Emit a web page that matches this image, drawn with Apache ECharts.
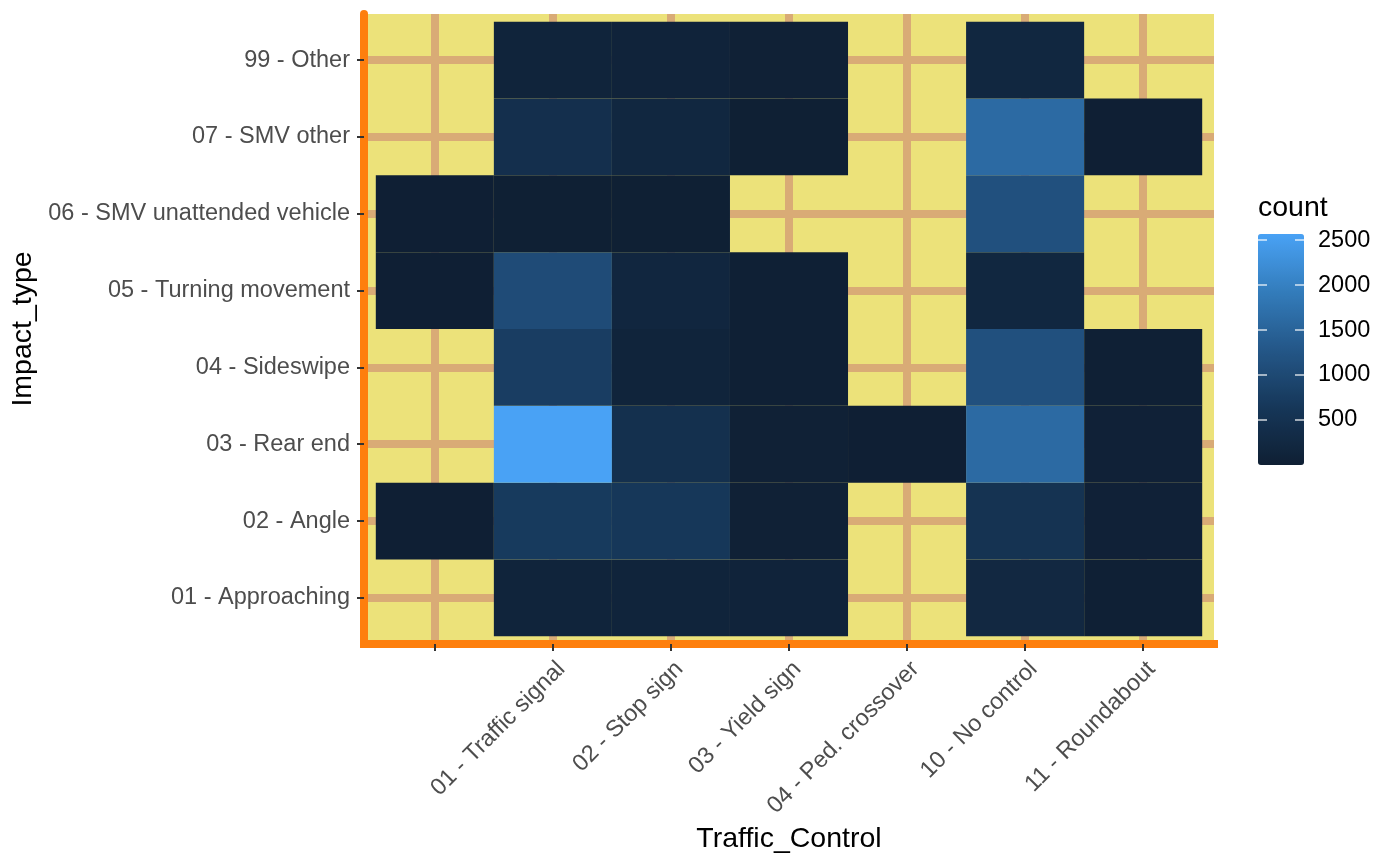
<!DOCTYPE html>
<html><head><meta charset="utf-8">
<script src="https://cdn.jsdelivr.net/npm/echarts@6/dist/echarts.min.js"></script>
<style>html,body{margin:0;padding:0;background:#fff}#chart{width:1400px;height:865px}</style>
</head><body><div id="chart"></div>
<script>
const trafficControls = ['', '01 - Traffic signal', '02 - Stop sign', '03 - Yield sign', '04 - Ped. crossover', '10 - No control', '11 - Roundabout'];
const impactTypes = ['01 - Approaching', '02 - Angle', '03 - Rear end', '04 - Sideswipe', '05 - Turning movement', '06 - SMV unattended vehicle', '07 - SMV other', '99 - Other'];
// counts per impact type, one value per traffic control (null = no tile)
const countApproaching = [null, 130, 130, 110, null, 230, 30];
const countAngle       = [10, 700, 640, 50, null, 530, 60];
const countRearEnd     = [null, 2567, 460, 50, 10, 1620, 60];
const countSideswipe   = [null, 770, 130, 40, null, 1150, 30];
const countTurning     = [10, 1050, 200, 30, null, 215, null];
const countUnattended  = [10, 20, 20, null, null, 1150, null];
const countSmvOther    = [null, 440, 215, 15, null, 1620, 10];
const countOther       = [null, 130, 110, 50, null, 215, null];
const countScaleTicks  = [500, 1000, 1500, 2000, 2500];
const countMin = 0, countMax = 2567;

const rows = [countApproaching, countAngle, countRearEnd, countSideswipe, countTurning, countUnattended, countSmvOther, countOther];
const tileData = [];
rows.forEach((row, j) => row.forEach((v, i) => { if (v !== null) tileData.push([i, j, v]); }));
const xPos = trafficControls.map((_, i) => i);
const yPos = impactTypes.map((_, i) => i);

const FONT = '"Liberation Sans", Arial, Helvetica, sans-serif';
const chart = echarts.init(document.getElementById('chart'), null, {renderer: 'canvas'});
chart.setOption({
  animation: false,
  backgroundColor: '#ffffff',
  textStyle: {fontFamily: FONT},
  title: {text: 'count', left: 1258, top: 194, padding: 0,
    textStyle: {fontSize: 28.5, fontWeight: 'normal', color: '#000', fontFamily: FONT}},
  grid: [
    {left: 364, top: 14, width: 850, height: 630, show: true, backgroundColor: '#ece27a', borderWidth: 0},
    {left: 1258, top: 234, width: 46, height: 231}
  ],
  xAxis: [
    {gridIndex: 0, type: 'value', min: -0.6, max: 6.6,
      name: 'Traffic_Control', nameLocation: 'middle', nameGap: 178,
      nameTextStyle: {fontSize: 28.5, color: '#000', fontFamily: FONT},
      axisLine: {show: true, onZero: false, lineStyle: {color: '#fe7f0d', width: 8, cap: 'square'}},
      axisTick: {show: true, customValues: xPos, length: 7, lineStyle: {color: '#333333', width: 2}},
      axisLabel: {customValues: xPos, rotate: 45, align: 'right', verticalAlign: 'top', margin: 13,
        formatter: v => trafficControls[Math.round(v)], fontSize: 23.5, color: '#4d4d4d', fontFamily: FONT},
      splitLine: {show: true, lineStyle: {color: '#d9ab76', width: 8}}
    },
    {gridIndex: 1, type: 'value', show: false, min: 0, max: 1}
  ],
  yAxis: [
    {gridIndex: 0, type: 'value', min: -0.6, max: 7.6,
      name: 'Impact_type', nameLocation: 'middle', nameGap: 311, nameRotate: 90,
      nameTextStyle: {fontSize: 28.5, color: '#000', fontFamily: FONT},
      axisLine: {show: true, onZero: false, lineStyle: {color: '#fe7f0d', width: 8}},
      axisTick: {show: true, customValues: yPos, length: 7, lineStyle: {color: '#333333', width: 2}},
      axisLabel: {customValues: yPos, margin: 14,
        formatter: v => impactTypes[Math.round(v)], fontSize: 23.5, color: '#4d4d4d', fontFamily: FONT},
      splitLine: {show: true, lineStyle: {color: '#d9ab76', width: 8}}
    },
    {gridIndex: 1, type: 'value', min: countMin, max: countMax, position: 'left', z: 5,
      axisLine: {show: false},
      axisTick: {show: true, inside: true, length: 9, customValues: countScaleTicks,
        lineStyle: {color: 'rgba(255,255,255,0.8)', width: 1.5}},
      axisLabel: {show: false}, splitLine: {show: false}
    },
    {gridIndex: 1, type: 'value', min: countMin, max: countMax, position: 'right', z: 5,
      axisLine: {show: false},
      axisTick: {show: true, inside: true, length: 9, customValues: countScaleTicks,
        lineStyle: {color: 'rgba(255,255,255,0.8)', width: 1.5}},
      axisLabel: {show: true, customValues: countScaleTicks, margin: 14, fontSize: 23.5, color: '#000',
        fontFamily: FONT, formatter: v => String(Math.round(v))},
      splitLine: {show: false}
    }
  ],
  visualMap: {
    type: 'continuous', min: countMin, max: countMax, dimension: 2, seriesIndex: 0,
    calculable: false, hoverLink: false, left: 1258, top: 234, padding: 0,
    itemWidth: 46, itemHeight: 231, z: 2,
    inRange: {color: ['#0f1f33', '#163759', '#245788', '#337cbb', '#49a2f5']}
  },
  series: [{
    type: 'custom', xAxisIndex: 0, yAxisIndex: 0, data: tileData, encode: {x: 0, y: 1},
    renderItem: (params, api) => {
      const x = api.value(0), y = api.value(1);
      const a = api.coord([x - 0.5, y + 0.5]);
      const b = api.coord([x + 0.5, y - 0.5]);
      return {type: 'rect', shape: {x: a[0], y: a[1], width: b[0] - a[0], height: b[1] - a[1]},
        style: {fill: api.visual('color')}};
    }
  }]
});
</script></body></html>
